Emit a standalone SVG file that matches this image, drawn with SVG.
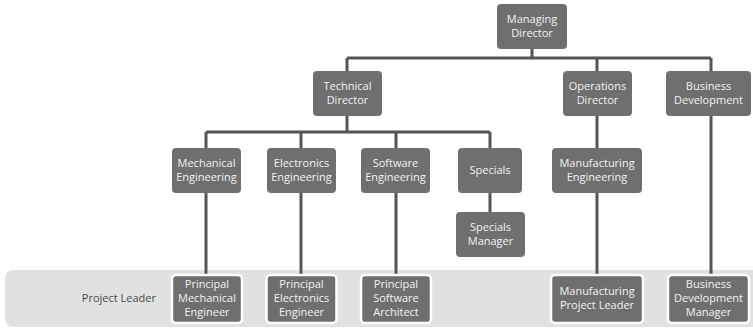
<svg xmlns="http://www.w3.org/2000/svg" width="753" height="329" viewBox="0 0 753 329">
  <style>
    .box { fill: #6f6f6f; rx: 4; }
    .lead { fill: #6f6f6f; stroke: #ffffff; stroke-width: 2.5; rx: 4; }
    .lbl { fill: #f2f2f2; font-family: "Open Sans", "Noto Sans", sans-serif; font-size: 11px; text-anchor: middle; }
    .conn { stroke: #555555; stroke-width: 3; fill: none; }
    .band-lbl { fill: #4a4a4a; font-family: "Open Sans", "Noto Sans", sans-serif; font-size: 11px; text-anchor: end; }
  </style>
  <rect width="753" height="329" fill="#ffffff"/>

  <!-- project leader band -->
  <g id="band">
    <rect x="5" y="270" width="760" height="57" rx="8" fill="#e1e1e1"/>
    <text class="band-lbl" x="156" y="302">Project Leader</text>
  </g>

  <g id="connectors">
    <path class="conn" d="M532 49V58M347 58H711M347 58V71M597 58V71M711 58V71"/>
    <path class="conn" d="M347 116V132M206 132H490M206 132V148M301 132V148M396 132V148M490 132V148"/>
    <path class="conn" d="M490 193V212M597 116V148"/>
    <path class="conn" d="M206 193V275M301 193V275M396 193V275M597 193V275M711 116V275"/>
  </g>

  <g id="managing-director">
    <rect class="box" x="497" y="4" width="70" height="45"/>
    <text class="lbl" x="532" y="23">Managing</text>
    <text class="lbl" x="532" y="37">Director</text>
  </g>
  <g id="technical-director">
    <rect class="box" x="313" y="71" width="69" height="45"/>
    <text class="lbl" x="347.5" y="90">Technical</text>
    <text class="lbl" x="347.5" y="104">Director</text>
  </g>
  <g id="operations-director">
    <rect class="box" x="563" y="71" width="69" height="45"/>
    <text class="lbl" x="597.5" y="90">Operations</text>
    <text class="lbl" x="597.5" y="104">Director</text>
  </g>
  <g id="business-development">
    <rect class="box" x="666" y="71" width="85" height="45"/>
    <text class="lbl" x="708.5" y="90">Business</text>
    <text class="lbl" x="708.5" y="104">Development</text>
  </g>

  <g id="mechanical-engineering">
    <rect class="box" x="172" y="148" width="69" height="45"/>
    <text class="lbl" x="206.5" y="167">Mechanical</text>
    <text class="lbl" x="206.5" y="181">Engineering</text>
  </g>
  <g id="electronics-engineering">
    <rect class="box" x="267" y="148" width="69" height="45"/>
    <text class="lbl" x="301.5" y="167">Electronics</text>
    <text class="lbl" x="301.5" y="181">Engineering</text>
  </g>
  <g id="software-engineering">
    <rect class="box" x="361" y="148" width="69" height="45"/>
    <text class="lbl" x="395.5" y="167">Software</text>
    <text class="lbl" x="395.5" y="181">Engineering</text>
  </g>
  <g id="specials">
    <rect class="box" x="458" y="148" width="64" height="45"/>
    <text class="lbl" x="490" y="174">Specials</text>
  </g>
  <g id="specials-manager">
    <rect class="box" x="456" y="212" width="69" height="45"/>
    <text class="lbl" x="490.5" y="231">Specials</text>
    <text class="lbl" x="490.5" y="245">Manager</text>
  </g>
  <g id="manufacturing-engineering">
    <rect class="box" x="552" y="148" width="90" height="45"/>
    <text class="lbl" x="597" y="167">Manufacturing</text>
    <text class="lbl" x="597" y="181">Engineering</text>
  </g>

  <g id="principal-mechanical-engineer">
    <rect class="lead" x="172" y="275" width="70" height="48"/>
    <text class="lbl" x="207" y="288">Principal</text>
    <text class="lbl" x="207" y="302">Mechanical</text>
    <text class="lbl" x="207" y="316">Engineer</text>
  </g>
  <g id="principal-electronics-engineer">
    <rect class="lead" x="266.5" y="275" width="70" height="48"/>
    <text class="lbl" x="301.5" y="288">Principal</text>
    <text class="lbl" x="301.5" y="302">Electronics</text>
    <text class="lbl" x="301.5" y="316">Engineer</text>
  </g>
  <g id="principal-software-architect">
    <rect class="lead" x="361" y="275" width="70" height="48"/>
    <text class="lbl" x="396" y="288">Principal</text>
    <text class="lbl" x="396" y="302">Software</text>
    <text class="lbl" x="396" y="316">Architect</text>
  </g>
  <g id="manufacturing-project-leader">
    <rect class="lead" x="551" y="275" width="92" height="48"/>
    <text class="lbl" x="597" y="295">Manufacturing</text>
    <text class="lbl" x="597" y="309">Project Leader</text>
  </g>
  <g id="business-development-manager">
    <rect class="lead" x="668" y="275" width="81" height="48"/>
    <text class="lbl" x="708.5" y="288">Business</text>
    <text class="lbl" x="708.5" y="302">Development</text>
    <text class="lbl" x="708.5" y="316">Manager</text>
  </g>
</svg>
